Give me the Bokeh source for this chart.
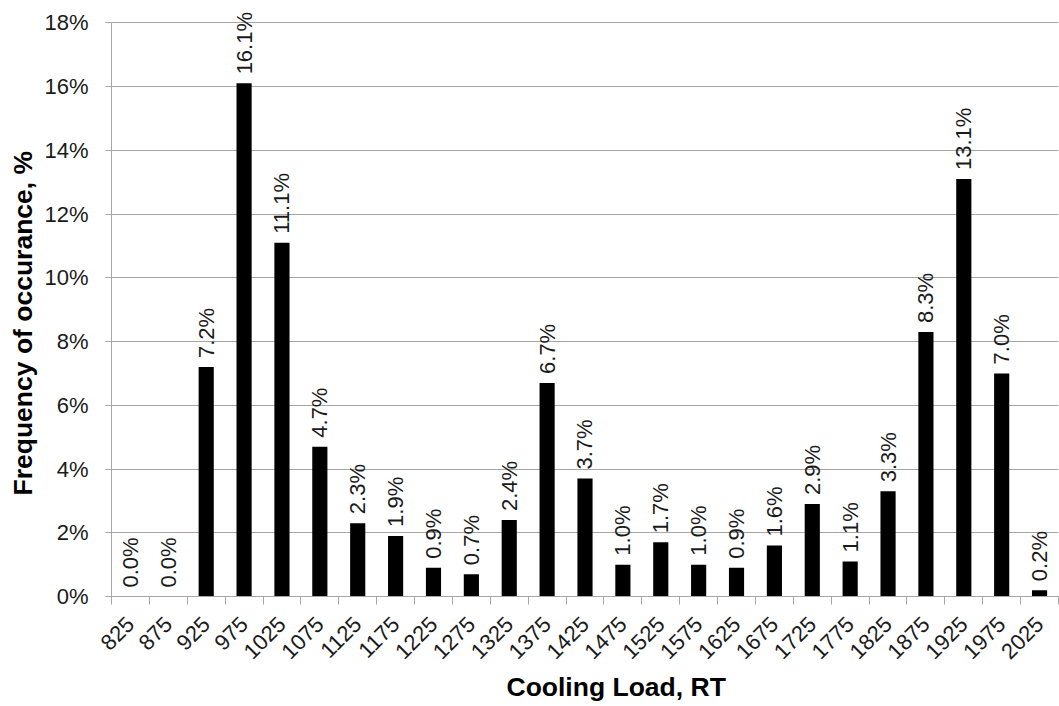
import math
import numpy as np
from bokeh.plotting import figure
from bokeh.models import ColumnDataSource, LabelSet, Title, FixedTicker, Range1d
from bokeh.embed import file_html
from bokeh.resources import INLINE
from bokeh.core.properties import value

# ---- data ----
loads = ["825", "875", "925", "975", "1025", "1075", "1125", "1175", "1225", "1275",
         "1325", "1375", "1425", "1475", "1525", "1575", "1625", "1675", "1725", "1775",
         "1825", "1875", "1925", "1975", "2025"]
freq = [0.0, 0.0, 7.2, 16.1, 11.1, 4.7, 2.3, 1.9, 0.9, 0.7,
        2.4, 6.7, 3.7, 1.0, 1.7, 1.0, 0.9, 1.6, 2.9, 1.1,
        3.3, 8.3, 13.1, 7.0, 0.2]
y_ticks = [0, 2, 4, 6, 8, 10, 12, 14, 16, 18]
y_tick_labels = ["0%", "2%", "4%", "6%", "8%", "10%", "12%", "14%", "16%", "18%"]
x_title = "Cooling Load, RT"
y_title = "Frequency of occurance, %"

n = len(loads)
xs = list(range(n))
src = ColumnDataSource(dict(x=xs, top=freq, lab=[f"{v:.1f}%" for v in freq]))

FONT = "Liberation Sans"
GRID = "#a6a6a6"
TXT = "#1a1a1a"

# the frame runs up to the top of the canvas so the tallest value label is not cut;
# axis line and grid stop at the last tick (18 %)
p = figure(width=1059, height=706, output_backend="svg", toolbar_location=None,
           x_range=Range1d(-0.5, n - 0.5), y_range=Range1d(y_ticks[0], 18.7),
           min_border_left=111, min_border_right=1, min_border_top=0, min_border_bottom=110)
p.outline_line_color = None
p.background_fill_color = "white"
p.border_fill_color = "white"

p.vbar(x="x", top="top", bottom=0, width=0.4, source=src, fill_color="black", line_color=None)

p.add_layout(LabelSet(x="x", y="top", text="lab", source=src, angle=math.pi / 2,
                      text_align="left", text_baseline="middle", y_offset=9,
                      text_font=value(FONT), text_font_size="22px", text_color=TXT))

# x axis: category labels at centres, tick marks between categories
xa = p.xaxis[0]
xa.ticker = FixedTicker(ticks=xs, minor_ticks=[i - 0.5 for i in range(n + 1)])
xa.major_label_overrides = {i: loads[i] for i in xs}
xa.major_tick_line_color = None
xa.major_tick_out = 0
xa.major_tick_in = 0
xa.minor_tick_line_color = GRID
xa.minor_tick_out = 8
xa.minor_tick_in = 0
xa.axis_line_color = GRID
xa.major_label_orientation = math.pi / 4
xa.major_label_standoff = 16
xa.major_label_text_font = FONT
xa.major_label_text_font_size = "22px"
xa.major_label_text_color = TXT

# y axis
ya = p.yaxis[0]
ya.ticker = FixedTicker(ticks=y_ticks, minor_ticks=[])
ya.bounds = (y_ticks[0], y_ticks[-1])
ya.major_label_overrides = {t: l for t, l in zip(y_ticks, y_tick_labels)}
ya.major_tick_line_color = GRID
ya.major_tick_out = 6
ya.major_tick_in = 0
ya.axis_line_color = GRID
ya.major_label_standoff = 17
ya.major_label_text_font = FONT
ya.major_label_text_font_size = "22px"
ya.major_label_text_color = TXT

p.xgrid.grid_line_color = None
p.ygrid.grid_line_color = GRID
p.ygrid.grid_line_width = 1

p.add_layout(Title(text=x_title, align="left", offset=395, standoff=6, vertical_align="top",
                   text_font=FONT, text_font_style="bold", text_font_size="26.5px",
                   text_color="black"), "below")
p.add_layout(Title(text=y_title, align="left", offset=101, standoff=7, vertical_align="bottom",
                   text_font=FONT, text_font_style="bold", text_font_size="26.5px",
                   text_color="black"), "left")

open("out.html", "w").write(file_html(p, INLINE))
